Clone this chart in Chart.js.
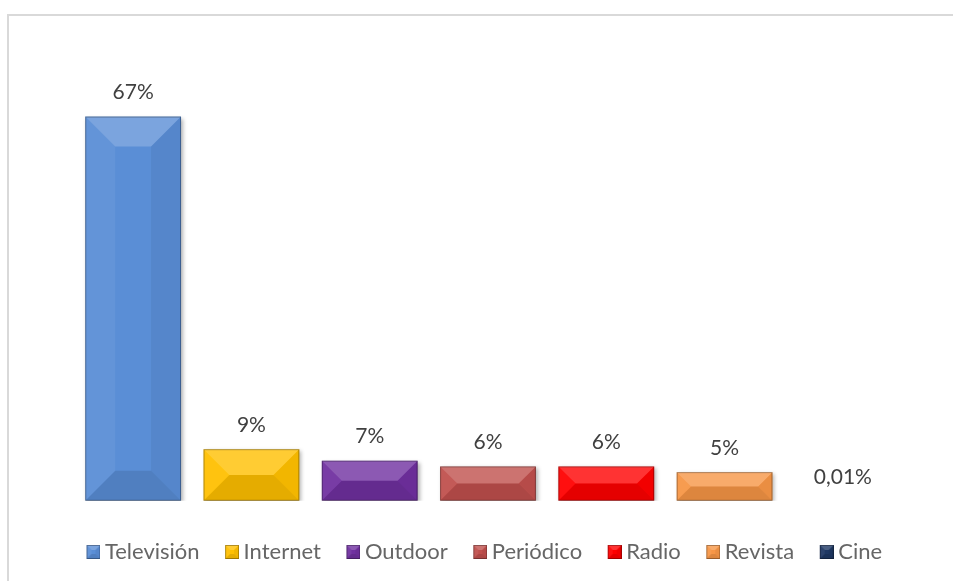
<!DOCTYPE html>
<html>
<head>
<meta charset="utf-8">
<script src="https://cdn.jsdelivr.net/npm/chart.js@4.4.1/dist/chart.umd.min.js"></script>
<style>
  html, body { margin: 0; padding: 0; background: #fff; overflow: hidden; }
  #wrap { position: relative; width: 953px; height: 581px; }
  #frame { position: absolute; left: 7px; top: 14px; width: 1000px; height: 700px;
           border-left: 2px solid #d9d9d9; border-top: 2px solid #d9d9d9; box-sizing: border-box; }
  canvas { position: absolute; left: 0; top: 0; }
</style>
</head>
<body>
<div id="wrap">
  <div id="frame"></div>
  <canvas id="grafico" width="953" height="581"></canvas>
</div>
<script>
// dados
var medios = ['Televisión', 'Internet', 'Outdoor', 'Periódico', 'Radio', 'Revista', 'Cine'];
var porcentajes = [67, 9, 7, 6, 6, 5, 0.01];
var colores = ['#5A8ED6', '#FFC000', '#7030A0', '#C0504D', '#FF0000', '#F79646', '#1F3864'];

var fonte = 'Lato, "Open Sans", sans-serif';

function bisel(ctx, left, top, right, bottom, d) {
	// marco biselado: arriba claro, abajo oscuro
	ctx.beginPath();
	ctx.moveTo(left, top); ctx.lineTo(right, top); ctx.lineTo(right - d, top + d); ctx.lineTo(left + d, top + d);
	ctx.closePath();
	ctx.fillStyle = 'rgba(255,255,255,0.2)';
	ctx.fill();

	ctx.beginPath();
	ctx.moveTo(left, top); ctx.lineTo(left + d, top + d); ctx.lineTo(left + d, bottom - d); ctx.lineTo(left, bottom);
	ctx.closePath();
	ctx.fillStyle = 'rgba(255,255,255,0.06)';
	ctx.fill();

	ctx.beginPath();
	ctx.moveTo(right, top); ctx.lineTo(right - d, top + d); ctx.lineTo(right - d, bottom - d); ctx.lineTo(right, bottom);
	ctx.closePath();
	ctx.fillStyle = 'rgba(0,0,0,0.05)';
	ctx.fill();

	ctx.beginPath();
	ctx.moveTo(left, bottom); ctx.lineTo(right, bottom); ctx.lineTo(right - d, bottom - d); ctx.lineTo(left + d, bottom - d);
	ctx.closePath();
	ctx.fillStyle = 'rgba(0,0,0,0.1)';
	ctx.fill();

	ctx.strokeStyle = 'rgba(0,0,0,0.3)';
	ctx.lineWidth = 1;
	ctx.strokeRect(left + 0.5, top + 0.5, right - left - 1, bottom - top - 1);
}

// iconos de la leyenda (cuadro pegado a la derecha del lienzo)
var iconos = colores.map(function(c) {
	var cv = document.createElement('canvas');
	cv.width = 36; cv.height = 14;
	var cx = cv.getContext('2d');
	cx.fillStyle = c;
	cx.fillRect(22, 0, 14, 14);
	bisel(cx, 22, 0, 36, 14, 5);
	return cv;
});

var biselPlugin = {
	id: 'bisel',
	beforeDatasetDraw: function(chart) {
		var ctx = chart.ctx;
		ctx.save();
		ctx.shadowColor = 'rgba(0,0,0,0.3)';
		ctx.shadowBlur = 4;
		ctx.shadowOffsetX = 2;
		ctx.shadowOffsetY = 2;
	},
	afterDatasetDraw: function(chart) {
		chart.ctx.restore();
	},
	afterDatasetsDraw: function(chart) {
		var ctx = chart.ctx;
		var meta = chart.getDatasetMeta(0);
		ctx.save();
		meta.data.forEach(function(bar, i) {
			var p = bar.getProps(['x', 'y', 'base', 'width'], true);
			var left = p.x - p.width / 2, right = p.x + p.width / 2;
			var top = Math.min(p.y, p.base), bottom = Math.max(p.y, p.base);
			var h = bottom - top;
			if (h > 2) {
				var d = Math.min(30, h / 2, p.width / 2);
				bisel(ctx, left, top, right, bottom, d);
			}
			// etiqueta
			var txt = String(porcentajes[i]).replace('.', ',') + '%';
			ctx.fillStyle = '#404040';
			ctx.font = '21px ' + fonte;
			ctx.textAlign = 'center';
			ctx.textBaseline = 'middle';
			ctx.fillText(txt, p.x, top - 24);
		});
		ctx.restore();
	}
};

var ctx = document.getElementById('grafico').getContext('2d');
var chart = new Chart(ctx, {
	type: 'bar',
	data: {
		labels: medios,
		datasets: [{
			data: porcentajes,
			backgroundColor: colores,
			borderWidth: 0,
			categoryPercentage: 0.81,
			barPercentage: 1
		}]
	},
	options: {
		responsive: false,
		animation: false,
		layout: { padding: { top: 42, left: 10, right: 10, bottom: 8 } },
		scales: {
			x: { display: false },
			y: {
				min: 0, max: 80,
				ticks: { display: false },
				grid: { display: false },
				border: { display: false },
				afterFit: function(s) { s.width = 64; }
			},
			yd: {
				position: 'right',
				ticks: { display: false },
				grid: { display: false },
				border: { display: false },
				afterFit: function(s) { s.width = 41; }
			}
		},
		plugins: {
			tooltip: { enabled: false },
			legend: {
				display: true,
				position: 'bottom',
				title: { display: true, text: '', font: { size: 1 }, padding: { top: 29, bottom: 0 } },
				labels: {
					color: '#595959',
					font: { family: fonte, size: 22 },
					usePointStyle: true,
					pointStyleWidth: 23,
					boxHeight: 14,
					padding: 10,
					generateLabels: function(ch) {
						return medios.map(function(m, i) {
							return { text: m, pointStyle: iconos[i], fillStyle: colores[i], strokeStyle: colores[i], lineWidth: 0, hidden: false, index: i };
						});
					}
				}
			}
		}
	},
	plugins: [biselPlugin]
});
</script>
</body>
</html>
